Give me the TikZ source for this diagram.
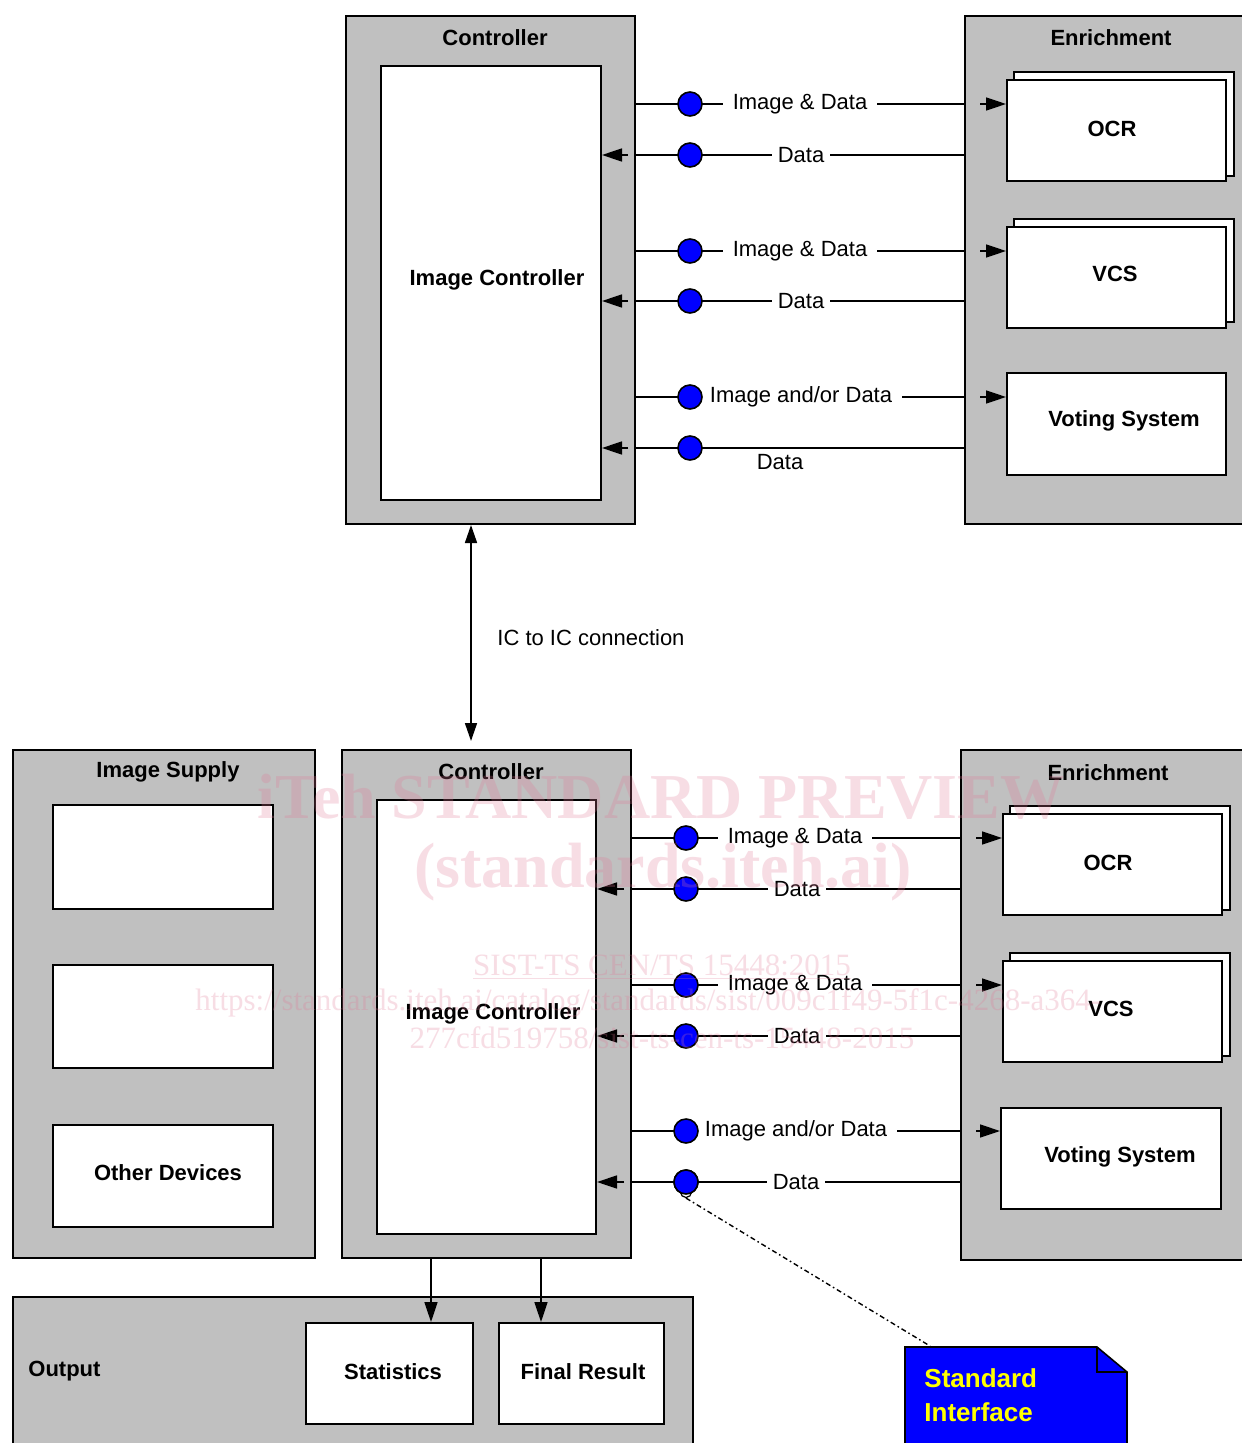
\documentclass[tikz,border=0pt]{standalone}
\usepackage{fontspec}
\setmainfont{Liberation Sans}
\newfontfamily\wmfont{Liberation Serif}
\usetikzlibrary{arrows.meta,fit,calc}
\definecolor{panelgray}{HTML}{C0C0C0}
\definecolor{dotblue}{HTML}{0000FF}
\definecolor{noteyellow}{HTML}{FFFF00}
\definecolor{wmpink}{RGB}{226,120,150}
\begin{document}
\begin{tikzpicture}[x=0.5pt,y=-0.5pt,
  every node/.style={font=\fontsize{11pt}{13pt}\selectfont},
  panel/.style={draw=black, line width=1pt, fill=panelgray, inner sep=0pt},
  wbox/.style={draw=black, line width=1pt, fill=white, inner sep=0pt, font=\fontsize{11pt}{13pt}\selectfont\bfseries},
  paneltitle/.style={font=\fontsize{11pt}{13pt}\selectfont\bfseries, inner sep=0pt},
  conn/.style={draw=black, line width=0.8pt},
  bluedot/.style={circle, fill=dotblue, draw=black, line width=0.8pt, minimum size=12pt, inner sep=0pt},
  lbl/.style={fill=white, inner xsep=3pt, inner ysep=1pt},
  tipline/.style={draw=black, line width=0.8pt, -{Triangle[length=10pt,width=6.5pt]}},
  dbltip/.style={draw=black, line width=0.8pt, {Triangle[length=9pt,width=6pt]}-{Triangle[length=9pt,width=6pt]}},
  wmbig/.style={text=wmpink, opacity=0.25, font=\wmfont\bfseries\fontsize{32pt}{34pt}\selectfont, inner sep=0pt},
  wmsmall/.style={text=wmpink, opacity=0.25, font=\wmfont\fontsize{15.5pt}{17pt}\selectfont, inner sep=0pt},
  notetext/.style={text=noteyellow, font=\bfseries\fontsize{13pt}{17pt}\selectfont, align=left, inner sep=0pt}
]
\useasboundingbox (0,0) rectangle (1241,1443);
\fill[white] (0,0) rectangle (1241,1443);

% ================= TOP SECTION =================
\node[panel, fit={(346,16) (635,524)}] (ctlA) {};
\node[paneltitle] at (495,38) {Controller};
\node[wbox, fit={(381,66) (601,500)}] (icA) {};
\node[paneltitle] at (497,280) {Image Controller};

\node[panel, fit={(965,16) (1250,524)}] (enrA) {};
\node[paneltitle] at (1111,38) {Enrichment};
\node[wbox, fit={(1014,72) (1234,176)}] (ocrAb) {};
\node[wbox, fit={(1007,80) (1226,181)}] (ocrA) {};
\node[paneltitle] at (1112,129) {OCR};
\node[wbox, fit={(1014,219) (1234,322)}] (vcsAb) {};
\node[wbox, fit={(1007,227) (1226,328)}] (vcsA) {};
\node[paneltitle] at (1115,274) {VCS};
\node[wbox, fit={(1007,373) (1226,475)}] (votA) {};
\node[paneltitle] at (1124,421) {Voting System};

% rows
\coordinate (pA1) at (690,104);
\coordinate (pA2) at (690,155);
\coordinate (pA3) at (690,251);
\coordinate (pA4) at (690,301);
\coordinate (pA5) at (690,397);
\coordinate (pA6) at (690,448);
\foreach \p in {pA1,pA2,pA3,pA4,pA5,pA6}{
  \draw[conn] (ctlA.east |- \p) -- (enrA.west |- \p);
}
\node[lbl, inner xsep=5pt] (lA1) at (800,104) {Image \& Data};
\node[lbl] (lA2) at (801,155) {Data};
\node[lbl, inner xsep=5pt] (lA3) at (800,251) {Image \& Data};
\node[lbl] (lA4) at (801,301) {Data};
\node[lbl, inner xsep=5pt] (lA5) at (801,397) {Image and/or Data};
\node[inner sep=0pt] (lA6) at (780,462) {Data};
\foreach \p in {pA1,pA2,pA3,pA4,pA5,pA6}{
  \node[bluedot] at (\p) {};
}
\draw[tipline] ($(enrA.west |- pA1)+(16,0)$) -- (ocrA.west |- pA1);
\draw[tipline] ($(enrA.west |- pA3)+(16,0)$) -- (vcsA.west |- pA3);
\draw[tipline] ($(enrA.west |- pA5)+(16,0)$) -- (votA.west |- pA5);
\draw[tipline] ($(ctlA.east |- pA2)+(-8,0)$) -- (icA.east |- pA2);
\draw[tipline] ($(ctlA.east |- pA4)+(-8,0)$) -- (icA.east |- pA4);
\draw[tipline] ($(ctlA.east |- pA6)+(-8,0)$) -- (icA.east |- pA6);

% ================= BOTTOM SECTION =================
\node[panel, fit={(342,750) (631,1258)}] (ctlB) {};
\node[paneltitle] at (491,772) {Controller};
\node[wbox, fit={(377,800) (596,1234)}] (icB) {};
\node[paneltitle] at (493,1014) {Image Controller};

\node[panel, fit={(961,750) (1250,1260)}] (enrB) {};
\node[paneltitle] at (1108,773) {Enrichment};
\node[wbox, fit={(1010,806) (1230,910)}] (ocrBb) {};
\node[wbox, fit={(1003,814) (1222,915)}] (ocrB) {};
\node[paneltitle] at (1108,863) {OCR};
\node[wbox, fit={(1010,953) (1230,1056)}] (vcsBb) {};
\node[wbox, fit={(1003,961) (1222,1062)}] (vcsB) {};
\node[paneltitle] at (1111,1009) {VCS};
\node[wbox, fit={(1001,1108) (1221,1209)}] (votB) {};
\node[paneltitle] at (1120,1157) {Voting System};

\coordinate (pB1) at (686,838);
\coordinate (pB2) at (686,889);
\coordinate (pB3) at (686,985);
\coordinate (pB4) at (686,1036);
\coordinate (pB5) at (686,1131);
\coordinate (pB6) at (686,1182);
\foreach \p in {pB1,pB2,pB3,pB4,pB5,pB6}{
  \draw[conn] (ctlB.east |- \p) -- (enrB.west |- \p);
}
\node[lbl, inner xsep=5pt] (lB1) at (795,838) {Image \& Data};
\node[lbl] (lB2) at (797,889) {Data};
\node[lbl, inner xsep=5pt] (lB3) at (795,985) {Image \& Data};
\node[lbl] (lB4) at (797,1036) {Data};
\node[lbl, inner xsep=5pt] (lB5) at (796,1131) {Image and/or Data};
\node[lbl] (lB6) at (796,1182) {Data};
\foreach \p in {pB1,pB2,pB3,pB4,pB5,pB6}{
  \node[bluedot] at (\p) {};
}
\draw[tipline] ($(enrB.west |- pB1)+(16,0)$) -- (ocrB.west |- pB1);
\draw[tipline] ($(enrB.west |- pB3)+(16,0)$) -- (vcsB.west |- pB3);
\draw[tipline] ($(enrB.west |- pB5)+(16,0)$) -- (votB.west |- pB5);
\draw[tipline] ($(ctlB.east |- pB2)+(-8,0)$) -- (icB.east |- pB2);
\draw[tipline] ($(ctlB.east |- pB4)+(-8,0)$) -- (icB.east |- pB4);
\draw[tipline] ($(ctlB.east |- pB6)+(-8,0)$) -- (icB.east |- pB6);

% IC to IC
\coordinate (icx) at (471,0);
\draw[dbltip] (ctlA.south -| icx) -- ($(ctlB.north -| icx)+(0,-8)$);
\node[anchor=west, inner sep=0pt] (iclbl) at (497,638) {IC to IC connection};

% Image supply
\node[panel, fit={(13,750) (315,1258)}] (sup) {};
\node[paneltitle] at (168,772) {Image Supply};
\node[wbox, fit={(53,805) (273,909)}] (sup1) {};
\node[wbox, fit={(53,965) (273,1068)}] (sup2) {};
\node[wbox, fit={(53,1125) (273,1227)}] (sup3) {};
\node[paneltitle] at (168,1173) {Other Devices};

% Output
\node[panel, fit={(13,1297) (693,1470)}] (outp) {};
\node[paneltitle, anchor=west] at (28,1371) {Output};
\node[wbox, fit={(306,1323) (473,1424)}] (stat) {};
\node[paneltitle] at (393,1372) {Statistics};
\node[wbox, fit={(499,1323) (664,1424)}] (fres) {};
\node[paneltitle] at (583,1372) {Final Result};
\coordinate (o1) at (431,0);
\coordinate (o2) at (541,0);
\draw[tipline] (ctlB.south -| o1) -- (stat.north -| o1);
\draw[tipline] (ctlB.south -| o2) -- (fres.north -| o2);

% Standard interface note
\draw[fill=dotblue, draw=black, line width=0.8pt] (905,1347) -- (1097,1347) -- (1127,1372) -- (1127,1470) -- (905,1470) -- cycle;
\draw[black, line width=0.8pt] (1097,1347) -- (1097,1372) -- (1127,1372);
\coordinate (note) at (930,1346);
\node[notetext, anchor=north west] (notelbl) at (924,1368) {Standard\\Interface};
\node[circle, draw=black, fill=white, line width=0.6pt, minimum size=5.5pt, inner sep=0pt] (anch) at (686,1192) {};
\node[bluedot] at (pB6) {};
\draw[black, line width=0.7pt, dash pattern=on 2.5pt off 1.5pt on 0.8pt off 1.5pt] (anch.south) -- (note);

% Watermark
\node[wmbig] at (661,797) {iTeh STANDARD PREVIEW};
\node[wmbig] at (663,872) {(standards.iteh.ai)};
\node[wmsmall] at (662,967) {\underline{SIST-TS CEN/TS 15448:2015}};
\node[wmsmall, anchor=west] at (195,1003) {https://standards.iteh.ai/catalog/standards/sist/009c1f49-5f1c-4268-a364-};
\node[wmsmall] at (662,1038) {277cfd519758/sist-ts-cen-ts-15448-2015};
\end{tikzpicture}
\end{document}
